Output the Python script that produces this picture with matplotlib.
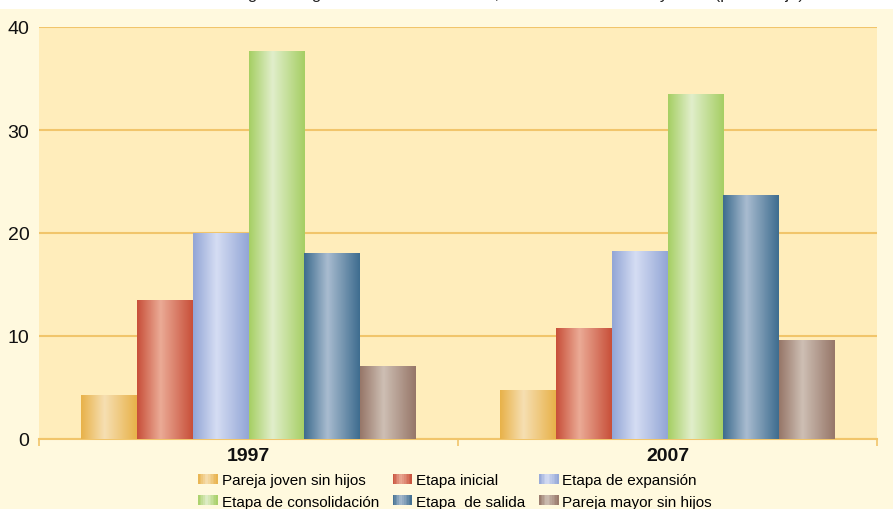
import matplotlib
matplotlib.use("Agg")
import matplotlib.pyplot as plt
import numpy as np
from matplotlib.colors import LinearSegmentedColormap
from matplotlib.patches import Rectangle
from matplotlib.legend_handler import HandlerBase

plt.rcParams['font.family'] = ['Liberation Sans', 'DejaVu Sans']

# datos
anios = ['1997', '2007']
etapas = ['Pareja joven sin hijos', 'Etapa inicial', 'Etapa de expansión',
          'Etapa de consolidación', 'Etapa  de salida', 'Pareja mayor sin hijos']
valores_1997 = [4.2, 13.4, 20.0, 37.6, 18.0, 7.0]
valores_2007 = [4.7, 10.7, 18.2, 33.4, 23.6, 9.6]

# colores: borde oscuro / centro claro
borde = ['#E8B24A', '#C8503A', '#93A6D6', '#A6CF64', '#3F6D8F', '#977769']
claro = ['#F6DFB2', '#EBAB96', '#D5DDF3', '#E1EECB', '#A9BCD0', '#CEBFB4']
cmaps = [LinearSegmentedColormap.from_list('g%d' % i, [(0, borde[i]), (0.42, claro[i]), (1, borde[i])])
         for i in range(len(etapas))]


class HandlerGrad(HandlerBase):
    # cuadrito de leyenda con degradado
    def __init__(self, cmap):
        super().__init__()
        self.cmap = cmap

    def create_artists(self, legend, orig_handle, xdescent, ydescent, width, height, fontsize, trans):
        arts = []
        m = 12
        for j in range(m):
            r = Rectangle((-xdescent + width * j / m, -ydescent), width / m + 0.2, height,
                          facecolor=self.cmap((j + 0.5) / m), edgecolor='none', transform=trans)
            arts.append(r)
        return arts


fig = plt.figure(figsize=(8.93, 5.10), dpi=100, facecolor='#FFF9DE')
# franja blanca arriba
fig.patches.append(Rectangle((0, 1 - 10/510), 1, 10/510, transform=fig.transFigure,
                             facecolor='white', edgecolor='none', zorder=0))
fig.text(0.5, 1 + 1/510, 'Distribución de los hogares según ciclo de vida familiar, zonas urbanas 1997 y 2007 (porcentaje)',
         ha='center', va='baseline', fontsize=12, color='#222222')

ax = fig.add_axes([39/893, 70/510, 838/893, 412/510])
ax.set_facecolor('#FFEDBB')

x = np.arange(len(anios))
n = len(etapas)
ancho = 0.8 / n
datos = np.array([valores_1997, valores_2007])

barras = []
for i in range(n):
    b = ax.bar(x - 0.4 + ancho * (i + 0.5), datos[:, i], ancho, color=claro[i],
               label=etapas[i], zorder=2, linewidth=0)
    barras.append(b)
    grad = np.linspace(0, 1, 64).reshape(1, -1)
    for p in b.patches:
        ax.imshow(grad, cmap=cmaps[i], aspect='auto', zorder=3,
                  extent=[p.get_x(), p.get_x() + p.get_width(), 0, p.get_height()])

ax.set_xlim(-0.5, 1.5)
ax.set_ylim(0, 40)
ax.set_yticks([0, 10, 20, 30, 40])
ax.grid(axis='y', color='#F1C56B', linewidth=1.5, zorder=1)
ax.set_axisbelow(True)
for s in ['top', 'right', 'left']:
    ax.spines[s].set_visible(False)
ax.spines['bottom'].set_color('#F1C56B')
ax.spines['bottom'].set_linewidth(1.5)
ax.tick_params(axis='y', length=0, labelsize=14, pad=7, labelcolor='#111111')

ax.set_xticks([-0.5, 0.5, 1.5])
ax.set_xticklabels([])
ax.tick_params(axis='x', length=5, width=1.2, color='#F1C56B')
for xi, a in zip(x, anios):
    ax.text(xi, -1.6, a, ha='center', va='center', fontsize=14, fontweight='bold', color='#111111')

orden = [0, 3, 1, 4, 2, 5]
h = [barras[k] for k in orden]
fig.legend(h, [etapas[k] for k in orden], ncol=3, loc='center',
           bbox_to_anchor=(455/893, 18/510), frameon=False, fontsize=11,
           handlelength=1.28, handleheight=0.6, handletextpad=0.25,
           columnspacing=0.9, labelspacing=0.46, borderpad=0.2,
           handler_map={barras[k]: HandlerGrad(cmaps[k]) for k in range(n)})

fig.savefig('out.png', dpi=100, facecolor=fig.get_facecolor())
